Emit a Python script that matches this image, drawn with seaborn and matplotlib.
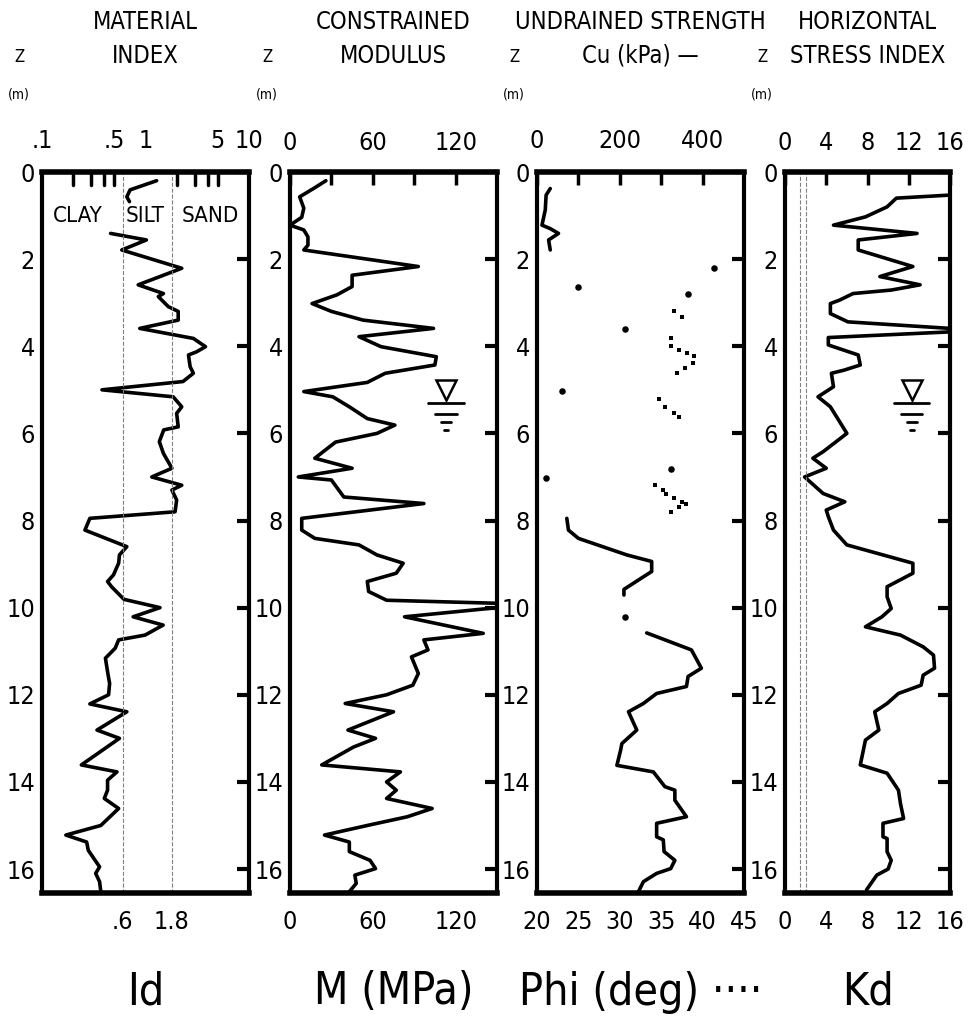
import numpy as np
import matplotlib
matplotlib.use("Agg")
import matplotlib.pyplot as plt
import seaborn as sns

sns.set_style("white")
plt.rcParams['font.family'] = ['DejaVu Sans']
plt.rcParams['font.stretch'] = 'condensed'
plt.rcParams['text.color'] = 'black'
plt.rcParams['xtick.color'] = 'black'
plt.rcParams['ytick.color'] = 'black'

# ---- data (depth z in m) ----
id_top_z = [0.2, 0.41, 0.57, 0.68]
id_top = [1.28, 0.71, 0.66, 0.70]
id_z = [1.41, 1.56, 1.79, 2.21, 2.59, 2.79, 2.86, 3.09, 3.2, 3.4, 3.59, 3.82, 4.01, 4.13, 4.2,
        4.47, 4.62, 4.81, 5.0, 5.16, 5.39, 5.54, 5.85, 5.92, 6.19, 6.46, 6.8, 7.0, 7.19, 7.3,
        7.53, 7.8, 7.95, 8.22, 8.6, 8.79, 8.98, 9.25, 9.4, 9.52, 9.81, 10.0, 10.21, 10.4,
        10.63, 10.74, 10.93, 11.16, 11.47, 11.74, 12.0, 12.21, 12.39, 12.81, 13.0, 13.61,
        13.77, 13.96, 14.19, 14.38, 14.61, 15.0, 15.22, 15.38, 15.57, 15.95, 16.1, 16.29, 16.52]
id_val = [0.46, 1.02, 0.59, 2.24, 0.85, 1.49, 1.33, 1.66, 2.07, 2.07, 0.88, 2.9, 3.8, 3.1, 2.6,
          2.7, 2.9, 2.3, 0.38, 1.85, 2.24, 2.0, 2.07, 1.5, 1.36, 1.49, 1.8, 1.15, 2.24, 1.8,
          2.0, 1.93, 0.29, 0.26, 0.66, 0.56, 0.55, 0.49, 0.43, 0.47, 0.62, 1.38, 0.76, 1.48,
          0.99, 0.55, 0.51, 0.41, 0.43, 0.45, 0.44, 0.29, 0.66, 0.34, 0.56, 0.24,
          0.53, 0.43, 0.43, 0.40, 0.55, 0.37, 0.17, 0.27, 0.28, 0.36, 0.33, 0.36, 0.37]

m_z = [0.2, 0.38, 0.57, 0.83, 1.04, 1.22, 1.33, 1.49, 1.68, 1.79, 2.17, 2.37, 2.63, 2.82, 3.02,
       3.2, 3.4, 3.59, 3.78, 4.01, 4.24, 4.43, 4.62, 4.83, 5.04, 5.16, 5.39, 5.66, 5.81, 6.0,
       6.2, 6.57, 6.8, 7.0, 7.07, 7.46, 7.61, 7.95, 8.22, 8.41, 8.56, 8.79, 8.98, 9.21, 9.4,
       9.63, 9.83, 9.9, 10.0, 10.21, 10.59, 10.74, 10.97, 11.13, 11.51, 11.78, 12.0, 12.2,
       12.39, 12.81, 13.0, 13.2, 13.61, 13.77, 14.0, 14.19, 14.38, 14.61, 14.8, 15.0, 15.22,
       15.38, 15.6, 15.8, 15.99, 16.14, 16.33, 16.52]
m_val = [26, 17, 7, 10, 8.5, 0, 10, 13, 13, 10, 93, 45, 45, 34, 16,
         30, 53, 104, 50, 66, 106, 105, 69, 56, 10, 31, 43, 56, 76, 63,
         33, 18, 45, 6, 30, 39, 97, 8.5, 8.5, 18, 50, 63, 82, 77, 56,
         57, 70, 150, 150, 83, 140, 97, 100, 88, 93, 89, 70, 40,
         75, 42, 62, 46, 23, 80, 70, 77, 70, 103, 85, 56, 25,
         43, 43, 58, 62, 47, 48, 43]

cu_top_z = [0.38, 0.53, 0.87, 1.22, 1.3, 1.41, 1.56, 1.79]
cu_top = [32, 22, 20, 12, 32, 52, 28, 32]
cu_mid_z = [7.95, 8.22, 8.41, 8.79, 8.94, 9.17, 9.58, 9.71]
cu_mid = [72, 76, 100, 217, 277, 277, 210, 210]
cu_low_z = [10.58, 10.97, 11.39, 11.58, 11.81, 11.97, 12.2, 12.39, 12.81, 13.12, 13.27, 13.62,
            13.77, 14.11, 14.19, 14.42, 14.8, 14.95, 15.26, 15.33, 15.6, 15.8, 15.99, 16.1,
            16.29, 16.52]
cu_low = [265, 373, 397, 365, 361, 289, 257, 221, 241, 205, 202, 193,
          281, 309, 333, 333, 361, 289, 289, 305, 307, 333, 323, 289, 257, 245]
cu_dot_z = [2.21, 2.63, 2.81, 3.61, 5.03, 6.82, 7.02, 10.21]
cu_dot = [428, 100, 365, 213, 60, 323, 22, 213]
phi_z = [3.2, 3.32, 3.82, 4.0, 4.09, 4.15, 4.22, 4.39, 4.49, 4.62, 5.2, 5.39, 5.54, 5.63,
         7.19, 7.3, 7.39, 7.49, 7.57, 7.61, 7.68, 7.8]
phi_val = [36.6, 37.5, 36.2, 36.2, 37.2, 38.1, 39.0, 38.8, 37.9, 36.9, 34.7, 35.5, 36.5, 37.1,
           34.2, 35.2, 35.6, 36.5, 37.5, 38.0, 37.1, 36.2]

kd_z = [0.53, 0.6, 0.8, 1.03, 1.22, 1.41, 1.56, 1.79, 2.17, 2.4, 2.59, 2.71, 2.79, 2.94, 3.02,
        3.25, 3.44, 3.59, 3.67, 3.8, 3.97, 4.2, 4.43, 4.55, 4.62, 4.93, 5.16, 5.39, 6.0, 6.42,
        6.57, 6.8, 7.0, 7.38, 7.57, 7.76, 7.91, 8.22, 8.56, 8.98, 9.21, 9.52, 9.75, 10.02,
        10.21, 10.44, 10.63, 10.9, 11.09, 11.39, 11.55, 11.78, 11.97, 12.2, 12.39, 12.81,
        13.04, 13.27, 13.61, 13.8, 14.19, 14.5, 14.84, 14.95, 15.26, 15.3, 15.6, 15.8, 16.0,
        16.14, 16.48]
kd_val = [16, 10.8, 9.9, 7.8, 4.7, 12.8, 7.1, 7.1, 12.4, 9.2, 13.1, 10.3, 6.6, 5.3, 4.4,
          4.4, 6.1, 16, 16, 4.2, 4.2, 7.1, 7.3, 5.7, 4.5, 4.7, 3.2, 4.4, 6.0, 3.7,
          2.7, 4.0, 1.9, 3.7, 5.8, 4.0, 4.2, 4.7, 6.0, 12.4, 12.4, 9.9, 9.9, 10.3,
          9.4, 7.8, 11.2, 13.4, 14.4, 14.5, 13.4, 13.2, 11.0, 9.9, 8.7, 9.1,
          7.8, 7.6, 7.3, 9.9, 11.0, 11.2, 11.5, 9.5, 9.5, 9.9, 9.9, 10.3, 10.0,
          8.9, 7.9]

water_z = 5.3
z_max = 16.55
headers = [("MATERIAL", "INDEX"), ("CONSTRAINED", "MODULUS"),
           ("UNDRAINED STRENGTH", "Cu (kPa) \u2014"), ("HORIZONTAL", "STRESS INDEX")]
bottom_labels = ["Id", "M (MPa)", "Phi (deg) \u00b7\u00b7\u00b7\u00b7", "Kd"]

W, H = 974, 1031
fig = plt.figure(figsize=(W / 100, H / 100), dpi=100)
left_px = [42, 290, 537, 785]
width_px = [207, 207, 207, 165]
top_px, bot_px = 172, 893
axes = [fig.add_axes([l / W, 1 - bot_px / H, w / W, (bot_px - top_px) / H])
        for l, w in zip(left_px, width_px)]
LW = 2.6
TS = 18


def style(ax):
    ax.set_ylim(z_max, 0)
    ax.set_yticks(np.arange(0, 17, 2))
    ax.tick_params(axis='y', left=False, right=True, direction='in', length=9, width=3,
                   labelsize=TS, pad=5)
    for s in ax.spines.values():
        s.set_linewidth(3)
        s.set_color('black')
    ax.spines['top'].set_linewidth(4)
    ax.spines['bottom'].set_linewidth(4)
    ax.set_xlabel("")
    ax.set_ylabel("")


def line(ax, x, y):
    sns.lineplot(x=x, y=y, ax=ax, sort=False, estimator=None, color='black', lw=LW)


def water(ax, x, half):
    ax.plot([x], [water_z - 0.3], marker='v', ms=14, mfc='white', mec='black', mew=1.8)
    for dz, w in [(0, 1.0), (0.25, 0.6), (0.45, 0.3), (0.62, 0.1)]:
        ax.plot([x - w * half, x + w * half], [water_z + dz, water_z + dz], color='black', lw=2)


# panel 1: material index (log)
ax = axes[0]
ax.set_xscale('log')
ax.set_xlim(0.1, 10)
line(ax, id_top, id_top_z)
line(ax, id_val, id_z)
for v in [0.6, 1.8]:
    ax.axvline(v, color='gray', ls='--', lw=0.8)
for v in [0.2, 0.3, 0.4, 0.5, 2, 3, 4, 5]:
    ax.plot([v, v], [0, 0.3], color='black', lw=2.5)
for txt, xv in [("CLAY", 0.22), ("SILT", 1.0), ("SAND", 4.2)]:
    ax.text(xv, 1.0, txt, ha='center', va='center', fontsize=16)
ax.set_xticks([0.6, 1.8])
ax.set_xticks([], minor=True)
ax.set_xticklabels([".6", "1.8"])
ax.tick_params(axis='x', length=0, labelsize=TS, pad=12)
sec = ax.secondary_xaxis('top')
sec.set_xticks([0.1, 0.5, 1, 5, 10])
sec.set_xticks([], minor=True)
sec.set_xticklabels([".1", ".5", "1", "5", "10"])
sec.tick_params(length=0, labelsize=TS, pad=14)
style(ax)

# panel 2: constrained modulus
ax = axes[1]
ax.set_xlim(0, 150)
line(ax, m_val, m_z)
ax.set_xticks([0, 60, 120])
ax.set_xticks([30, 90], minor=True)
ax.tick_params(axis='x', which='both', direction='in', length=9, width=2.5, labelsize=TS,
               pad=12, top=True, labeltop=True)
style(ax)
water(ax, 113, 13)

# panel 3: undrained strength / friction angle
ax = axes[2]
ax.set_xlim(20, 45)
cu2phi = lambda c: 20 + np.asarray(c) / 20.0
line(ax, cu2phi(cu_top), cu_top_z)
line(ax, cu2phi(cu_mid), cu_mid_z)
line(ax, cu2phi(cu_low), cu_low_z)
sns.scatterplot(x=cu2phi(cu_dot), y=cu_dot_z, ax=ax, color='black', s=22, marker='o',
                linewidth=0)
sns.scatterplot(x=phi_val, y=phi_z, ax=ax, color='black', s=9, marker='s', linewidth=0)
ax.set_xticks([20, 25, 30, 35, 40, 45])
ax.tick_params(axis='x', direction='in', length=9, width=2.5, labelsize=TS, pad=12)
sec = ax.secondary_xaxis('top', functions=(lambda p: (p - 20) * 20, lambda c: 20 + c / 20))
sec.set_xticks([0, 100, 200, 300, 400])
sec.set_xticklabels(["0", "", "200", "", "400"])
sec.tick_params(direction='in', length=9, width=2.5, labelsize=TS, pad=14)
sec.spines['top'].set_visible(False)
style(ax)

# panel 4: horizontal stress index
ax = axes[3]
ax.set_xlim(0, 16)
line(ax, kd_val, kd_z)
for v in [1.5, 2.0]:
    ax.axvline(v, color='gray', ls='--', lw=0.8)
ax.set_xticks([0, 4, 8, 12, 16])
ax.tick_params(axis='x', direction='in', length=9, width=2.5, labelsize=TS, pad=12,
               top=True, labeltop=True)
style(ax)
water(ax, 12.3, 1.7)

for ax, l, w, (h1, h2), bl in zip(axes, left_px, width_px, headers, bottom_labels):
    cx = (l + w / 2) / W
    fig.text(cx, 1 - 22 / H, h1, ha='center', va='center', fontsize=17)
    fig.text(cx, 1 - 56 / H, h2, ha='center', va='center', fontsize=17)
    fig.text(cx, 1 - 992 / H, bl, ha='center', va='center', fontsize=32)
    fig.text((l - 23) / W, 1 - 57 / H, "Z", ha='center', va='center', fontsize=12)
    fig.text((l - 23) / W, 1 - 95 / H, "(m)", ha='center', va='center', fontsize=10)

fig.savefig("out.png", dpi=100)
